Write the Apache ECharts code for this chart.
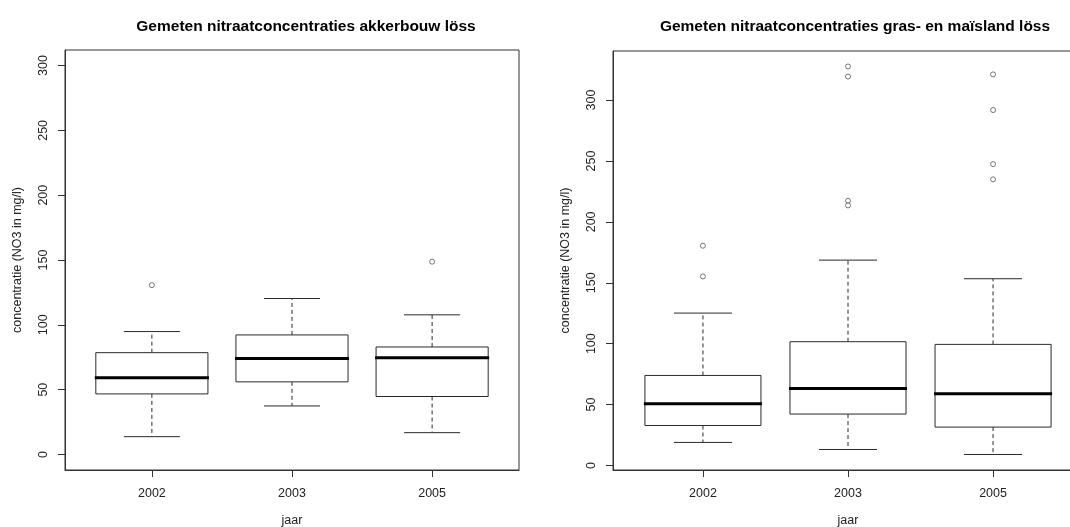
<!DOCTYPE html>
<html>
<head>
<meta charset="utf-8">
<script src="https://cdn.jsdelivr.net/npm/echarts@6/dist/echarts.min.js"></script>
<style>
html,body{margin:0;padding:0;background:#fff;}
#c{width:1070px;height:527px;}
</style>
</head>
<body>
<div id="c"></div>
<script>
// ---- data ----
const years = ['2002', '2003', '2005'];
const yTicks = [0, 50, 100, 150, 200, 250, 300];

// akkerbouw löss: [lower whisker, Q1, median, Q3, upper whisker]
const akkerStats = [
  [13.7, 46.7, 59.1, 78.5, 94.8],
  [37.4, 56.0, 74.1, 92.2, 120.3],
  [16.8, 44.7, 74.6, 82.9, 107.7]
];
const akkerOutliers = [[130.6], [], [148.7]];

// gras- en maïsland löss
const grasStats = [
  [18.9, 32.8, 50.6, 73.9, 125.1],
  [13.1, 42.2, 63.2, 101.6, 168.6],
  [9.0, 31.5, 58.9, 99.4, 153.3]
];
const grasOutliers = [[180.4, 155.2], [327.6, 319.4, 217.3, 213.5], [321.1, 291.8, 247.4, 234.9]];

const titles = ['Gemeten nitraatconcentraties akkerbouw löss', 'Gemeten nitraatconcentraties gras- en maïsland löss'];
const yName = 'concentratie (NO3 in mg/l)';
const xName = 'jaar';

// ---- build ----
const FONT = '"Liberation Sans", Arial, sans-serif';
const LINE = '#2a2a2a';

function boxData(stats) {
  return stats.map((s, i) => [i + 1].concat(s));
}
function outlierData(out) {
  const d = [];
  out.forEach((vals, i) => vals.forEach(v => d.push([i + 1, v])));
  return d;
}
function renderBox(params, api) {
  const x = api.value(0);
  const lo = api.value(1), q1 = api.value(2), med = api.value(3), q3 = api.value(4), hi = api.value(5);
  const hw = 0.4, sw = 0.2;
  const pLo = api.coord([x, lo]), pQ1 = api.coord([x, q1]), pMed = api.coord([x, med]), pQ3 = api.coord([x, q3]), pHi = api.coord([x, hi]);
  const xl = api.coord([x - hw, med])[0], xr = api.coord([x + hw, med])[0];
  const sl = api.coord([x - sw, med])[0], sr = api.coord([x + sw, med])[0];
  const ls = {stroke: LINE, lineWidth: 1};
  const dash = {stroke: LINE, lineWidth: 1, lineDash: [4, 3]};
  return {
    type: 'group',
    children: [
      {type: 'line', shape: {x1: pQ3[0], y1: pQ3[1], x2: pHi[0], y2: pHi[1]}, style: dash},
      {type: 'line', shape: {x1: pQ1[0], y1: pQ1[1], x2: pLo[0], y2: pLo[1]}, style: dash},
      {type: 'line', shape: {x1: sl, y1: pHi[1], x2: sr, y2: pHi[1]}, style: ls},
      {type: 'line', shape: {x1: sl, y1: pLo[1], x2: sr, y2: pLo[1]}, style: ls},
      {type: 'rect', shape: {x: xl, y: pQ3[1], width: xr - xl, height: pQ1[1] - pQ3[1]}, style: {fill: '#fff', stroke: LINE, lineWidth: 1}},
      {type: 'line', shape: {x1: xl - 1, y1: pMed[1], x2: xr + 1, y2: pMed[1]}, style: {stroke: '#000', lineWidth: 3}}
    ]
  };
}

function xAxis(gi) {
  return {
    type: 'value', gridIndex: gi, min: 0.38, max: 3.62,
    name: xName, nameLocation: 'middle', nameGap: 44,
    nameTextStyle: {fontFamily: FONT, fontSize: 12.5, color: '#222'},
    axisLine: {show: true, onZero: false, lineStyle: {color: '#333'}},
    axisTick: {show: true, length: 7, customValues: [1, 2, 3], lineStyle: {color: '#333'}},
    axisLabel: {show: true, margin: 17, customValues: [1, 2, 3], formatter: v => years[Math.round(v) - 1] || '',
      fontFamily: FONT, fontSize: 12.5, color: '#222'},
    splitLine: {show: false}
  };
}
function yAxis(gi, min, max) {
  return {
    type: 'value', gridIndex: gi, min: min, max: max,
    name: yName, nameLocation: 'middle', nameGap: 41,
    nameTextStyle: {fontFamily: FONT, fontSize: 12.5, color: '#222'},
    axisLine: {show: true, onZero: false, lineStyle: {color: '#333'}},
    axisTick: {show: true, length: 7, customValues: yTicks, lineStyle: {color: '#333'}},
    axisLabel: {show: true, rotate: 90, margin: 15, customValues: yTicks,
      fontFamily: FONT, fontSize: 12.5, color: '#222'},
    splitLine: {show: false}
  };
}

const chart = echarts.init(document.getElementById('c'), null, {renderer: 'canvas'});
chart.setOption({
  backgroundColor: '#fff',
  animation: false,
  title: [
    {text: titles[0], left: 301, top: 14, textAlign: 'center', textStyle: {fontFamily: FONT, fontSize: 15.5, fontWeight: 'bold', color: '#000'}},
    {text: titles[1], left: 850, top: 14, textAlign: 'center', textStyle: {fontFamily: FONT, fontSize: 15.5, fontWeight: 'bold', color: '#000'}}
  ],
  grid: [
    {left: 65, top: 50, width: 454, height: 420, show: true, borderColor: '#333', borderWidth: 1, backgroundColor: 'transparent', containLabel: false, outerBoundsMode: 'none'},
    {left: 613, top: 51, width: 470, height: 419, show: true, borderColor: '#333', borderWidth: 1, backgroundColor: 'transparent', containLabel: false, outerBoundsMode: 'none'}
  ],
  xAxis: [xAxis(0), xAxis(1)],
  yAxis: [yAxis(0, -12, 312), yAxis(1, -3.74, 340.3)],
  series: [
    {type: 'custom', xAxisIndex: 0, yAxisIndex: 0, renderItem: renderBox, data: boxData(akkerStats), encode: {x: 0, y: [1, 2, 3, 4, 5]}},
    {type: 'scatter', xAxisIndex: 0, yAxisIndex: 0, data: outlierData(akkerOutliers), symbol: 'circle', symbolSize: 5,
      itemStyle: {color: '#fff', borderColor: '#555', borderWidth: 1}},
    {type: 'custom', xAxisIndex: 1, yAxisIndex: 1, renderItem: renderBox, data: boxData(grasStats), encode: {x: 0, y: [1, 2, 3, 4, 5]}},
    {type: 'scatter', xAxisIndex: 1, yAxisIndex: 1, data: outlierData(grasOutliers), symbol: 'circle', symbolSize: 5,
      itemStyle: {color: '#fff', borderColor: '#555', borderWidth: 1}}
  ]
});
</script>
</body>
</html>
